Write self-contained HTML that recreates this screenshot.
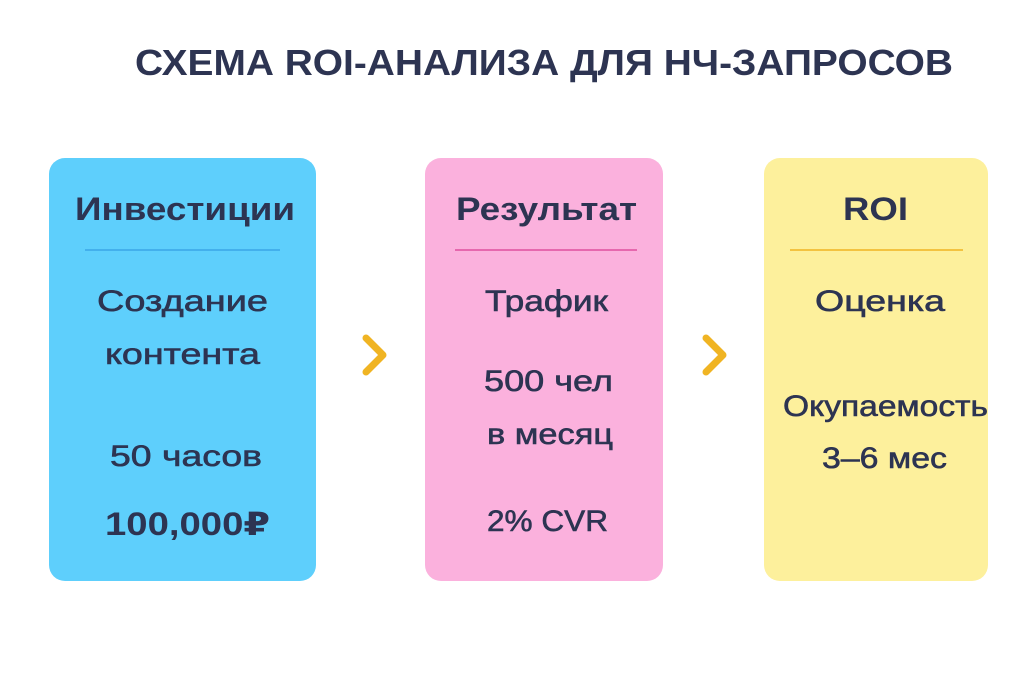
<!DOCTYPE html>
<html><head><meta charset="utf-8"><style>
html,body{margin:0;padding:0;background:#fff;width:1024px;height:683px;overflow:hidden}
svg text{font-family:"Liberation Sans","DejaVu Sans",sans-serif;fill:#2d3452}
.m{stroke:#2d3452;stroke-width:0.6}
</style></head><body>
<svg width="1024" height="683" viewBox="0 0 1024 683" xmlns="http://www.w3.org/2000/svg">
<text x="544" y="75" font-size="36" font-weight="bold" text-anchor="middle" textLength="818" lengthAdjust="spacingAndGlyphs">СХЕМА ROI-АНАЛИЗА ДЛЯ НЧ-ЗАПРОСОВ</text>

<rect x="49" y="158" width="267" height="423" rx="16" fill="#5ecffc"/>
<rect x="425" y="158" width="238" height="423" rx="16" fill="#fbb1dd"/>
<rect x="764" y="158" width="224" height="423" rx="16" fill="#fdf09c"/>

<line x1="85" y1="250" x2="280" y2="250" stroke="#3aa6e6" stroke-width="1.5"/>
<line x1="455" y1="250" x2="637" y2="250" stroke="#e0509e" stroke-width="1.5"/>
<line x1="790" y1="250" x2="963" y2="250" stroke="#f0b423" stroke-width="1.5"/>

<g font-size="32" font-weight="bold" lengthAdjust="spacingAndGlyphs">
<text x="75" y="220" textLength="220" lengthAdjust="spacingAndGlyphs">Инвестиции</text>
<text x="456" y="220" textLength="181" lengthAdjust="spacingAndGlyphs">Результат</text>
<text x="843" y="220" textLength="65" lengthAdjust="spacingAndGlyphs">ROI</text>
<text x="105" y="535" textLength="165" lengthAdjust="spacingAndGlyphs">100,000₽</text>
</g>
<g font-size="30" class="m">
<text x="97" y="311" textLength="171" lengthAdjust="spacingAndGlyphs">Создание</text>
<text x="105" y="364" textLength="155" lengthAdjust="spacingAndGlyphs">контента</text>
<text x="110" y="466" textLength="152" lengthAdjust="spacingAndGlyphs">50 часов</text>
<text x="485" y="311" textLength="123" lengthAdjust="spacingAndGlyphs">Трафик</text>
<text x="484" y="391" textLength="129" lengthAdjust="spacingAndGlyphs">500 чел</text>
<text x="487" y="444" textLength="126" lengthAdjust="spacingAndGlyphs">в месяц</text>
<text x="487" y="531" textLength="121" lengthAdjust="spacingAndGlyphs">2% CVR</text>
<text x="815" y="311" textLength="130" lengthAdjust="spacingAndGlyphs">Оценка</text>
<text x="783" y="416" textLength="205" lengthAdjust="spacingAndGlyphs">Окупаемость</text>
<text x="822" y="468" textLength="125" lengthAdjust="spacingAndGlyphs">3–6 мес</text>
</g>

<polyline points="366,338 383,355 366,372" fill="none" stroke="#f0b423" stroke-width="7" stroke-linecap="round" stroke-linejoin="round"/>
<polyline points="706,338 723,355 706,372" fill="none" stroke="#f0b423" stroke-width="7" stroke-linecap="round" stroke-linejoin="round"/>
</svg>
</body></html>
